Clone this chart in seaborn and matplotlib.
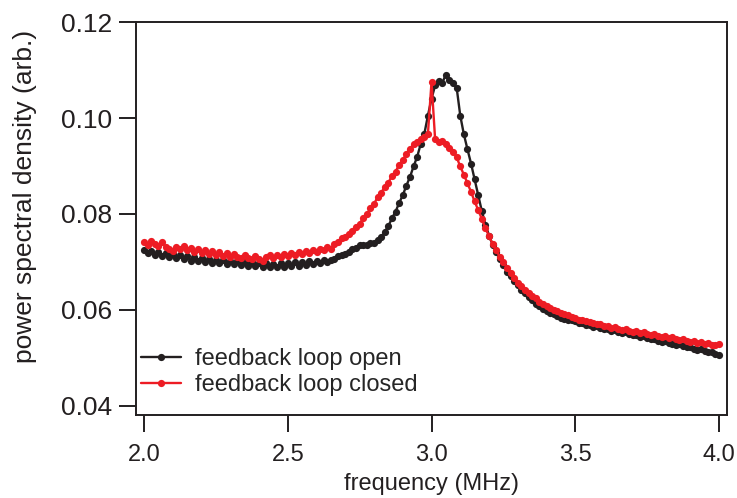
import numpy as np
import pandas as pd
import matplotlib
matplotlib.use("Agg")
import matplotlib.pyplot as plt
from matplotlib.lines import Line2D
import seaborn as sns

# frequency grid (MHz): 161 samples from 2.0 to 4.0
freq = np.linspace(2.0, 4.0, 161)

psd_open = [
    0.0724, 0.0718, 0.0723, 0.0715, 0.0721, 0.0712, 0.0718, 0.0710, 0.0716, 0.0708,
    0.0715, 0.0706, 0.0712, 0.0703, 0.0710, 0.0701, 0.0708, 0.0700, 0.0707, 0.0698,
    0.0705, 0.0697, 0.0704, 0.0696, 0.0703, 0.0695, 0.0701, 0.0693, 0.0700, 0.0692,
    0.0699, 0.0691, 0.0698, 0.0690, 0.0697, 0.0689, 0.0696, 0.0689, 0.0697, 0.0690,
    0.0698, 0.0691, 0.0699, 0.0692, 0.0700, 0.0694, 0.0701, 0.0695, 0.0702, 0.0697,
    0.0704, 0.0699, 0.0705, 0.0707, 0.0713, 0.0714, 0.0717, 0.0720, 0.0727, 0.0729,
    0.0736, 0.0736, 0.0735, 0.0740, 0.0739, 0.0746, 0.0751, 0.0763, 0.0775, 0.0791,
    0.0805, 0.0823, 0.0839, 0.0859, 0.0877, 0.0899, 0.0919, 0.0946, 0.0967, 0.1005,
    0.1040, 0.1068, 0.1078, 0.1074, 0.1090, 0.1080, 0.1072, 0.1063, 0.1005, 0.0966,
    0.0935, 0.0905, 0.0872, 0.0840, 0.0806, 0.0778, 0.0755, 0.0736, 0.0720, 0.0706,
    0.0694, 0.0680, 0.0670, 0.0660, 0.0651, 0.0642, 0.0635, 0.0627, 0.0620, 0.0613,
    0.0609, 0.0602, 0.0598, 0.0594, 0.0591, 0.0587, 0.0584, 0.0582, 0.0579, 0.0578,
    0.0576, 0.0573, 0.0572, 0.0569, 0.0568, 0.0565, 0.0566, 0.0562, 0.0560, 0.0561,
    0.0557, 0.0558, 0.0554, 0.0552, 0.0553, 0.0549, 0.0547, 0.0548, 0.0544, 0.0545,
    0.0541, 0.0539, 0.0540, 0.0536, 0.0534, 0.0535, 0.0531, 0.0529, 0.0527, 0.0528,
    0.0524, 0.0522, 0.0523, 0.0519, 0.0517, 0.0518, 0.0514, 0.0512, 0.0513, 0.0509,
    0.0507,
]

psd_closed = [
    0.0742, 0.0736, 0.0743, 0.0737, 0.0734, 0.0741, 0.0732, 0.0728, 0.0723, 0.0732,
    0.0726, 0.0733, 0.0725, 0.0730, 0.0720, 0.0726, 0.0718, 0.0725, 0.0717, 0.0723,
    0.0715, 0.0720, 0.0712, 0.0718, 0.0710, 0.0716, 0.0711, 0.0708, 0.0715, 0.0709,
    0.0706, 0.0713, 0.0707, 0.0703, 0.0711, 0.0714, 0.0708, 0.0715, 0.0710, 0.0717,
    0.0712, 0.0719, 0.0714, 0.0721, 0.0716, 0.0723, 0.0718, 0.0725, 0.0720, 0.0728,
    0.0724, 0.0732, 0.0728, 0.0737, 0.0741, 0.0749, 0.0752, 0.0759, 0.0765, 0.0772,
    0.0780, 0.0791, 0.0799, 0.0812, 0.0821, 0.0835, 0.0844, 0.0857, 0.0865, 0.0880,
    0.0888, 0.0903, 0.0912, 0.0926, 0.0936, 0.0945, 0.0949, 0.0956, 0.0960, 0.0967,
    0.1075, 0.0956, 0.0951, 0.0953, 0.0946, 0.0938, 0.0930, 0.0918, 0.0899, 0.0882,
    0.0864, 0.0846, 0.0826, 0.0808, 0.0790, 0.0770, 0.0754, 0.0738, 0.0724, 0.0711,
    0.0700, 0.0688, 0.0677, 0.0667, 0.0657, 0.0650, 0.0641, 0.0636, 0.0628, 0.0624,
    0.0617, 0.0613, 0.0608, 0.0604, 0.0600, 0.0598, 0.0594, 0.0591, 0.0589, 0.0585,
    0.0583, 0.0580, 0.0579, 0.0576, 0.0574, 0.0573, 0.0570, 0.0571, 0.0567, 0.0566,
    0.0563, 0.0565, 0.0561, 0.0559, 0.0561, 0.0557, 0.0555, 0.0556, 0.0552, 0.0553,
    0.0550, 0.0548, 0.0550, 0.0546, 0.0544, 0.0546, 0.0541, 0.0543, 0.0539, 0.0537,
    0.0540, 0.0535, 0.0533, 0.0535, 0.0531, 0.0533, 0.0529, 0.0531, 0.0527, 0.0526,
    0.0529,
]

labels = ["feedback loop open", "feedback loop closed"]
colors = ["#231f20", "#ed1c24"]
x_ticks = [2.0, 2.5, 3.0, 3.5, 4.0]
y_ticks = [0.04, 0.06, 0.08, 0.10, 0.12]

df = pd.concat([
    pd.DataFrame({"freq": freq, "psd": psd_open, "state": labels[0]}),
    pd.DataFrame({"freq": freq, "psd": psd_closed, "state": labels[1]}),
], ignore_index=True)

sns.set_style("ticks")
plt.rcParams["font.family"] = ["Liberation Sans", "DejaVu Sans"]

fig = plt.figure(figsize=(7.37, 4.98), dpi=100)
ax = fig.add_axes([0.1845, 0.1667, 0.802, 0.789])

MS = 5.2
LW = 1.7
sns.lineplot(data=df, x="freq", y="psd", hue="state", hue_order=labels,
             palette=colors, marker="o", markersize=MS, markeredgewidth=0,
             linewidth=LW, estimator=None, sort=False, ax=ax, legend=False)

ax.set_xlim(1.972, 4.028)
ax.set_ylim(0.0381, 0.12)
ax.set_xticks(x_ticks)
ax.set_xticklabels([f"{t:.1f}" for t in x_ticks])
ax.set_yticks(y_ticks)
ax.set_yticklabels([f"{t:.2f}" for t in y_ticks])

for s in ax.spines.values():
    s.set_visible(True)
    s.set_linewidth(1.4)
    s.set_color("#231f20")

ax.tick_params(axis="both", direction="out", length=12, width=1.4,
               color="#231f20", labelcolor="#231f20")
ax.tick_params(axis="x", labelsize=17, pad=9)
ax.tick_params(axis="y", labelsize=19, pad=5)
ax.set_xlabel("frequency (MHz)", fontsize=17, labelpad=5, color="#231f20")
ax.set_ylabel("power spectral density (arb.)", fontsize=19, color="#231f20")
ax.yaxis.set_label_coords(-0.168, 0.555)

handles = [Line2D([0], [0], color=c, lw=LW, marker="o", markersize=MS,
                  markeredgewidth=0) for c in colors]
ax.legend(handles, labels, loc="lower left", bbox_to_anchor=(-0.02, 0.005),
          frameon=False, fontsize=17, handlelength=1.7, handletextpad=0.6,
          labelspacing=0.2, borderaxespad=0.3)

fig.savefig("out.png", dpi=100)
